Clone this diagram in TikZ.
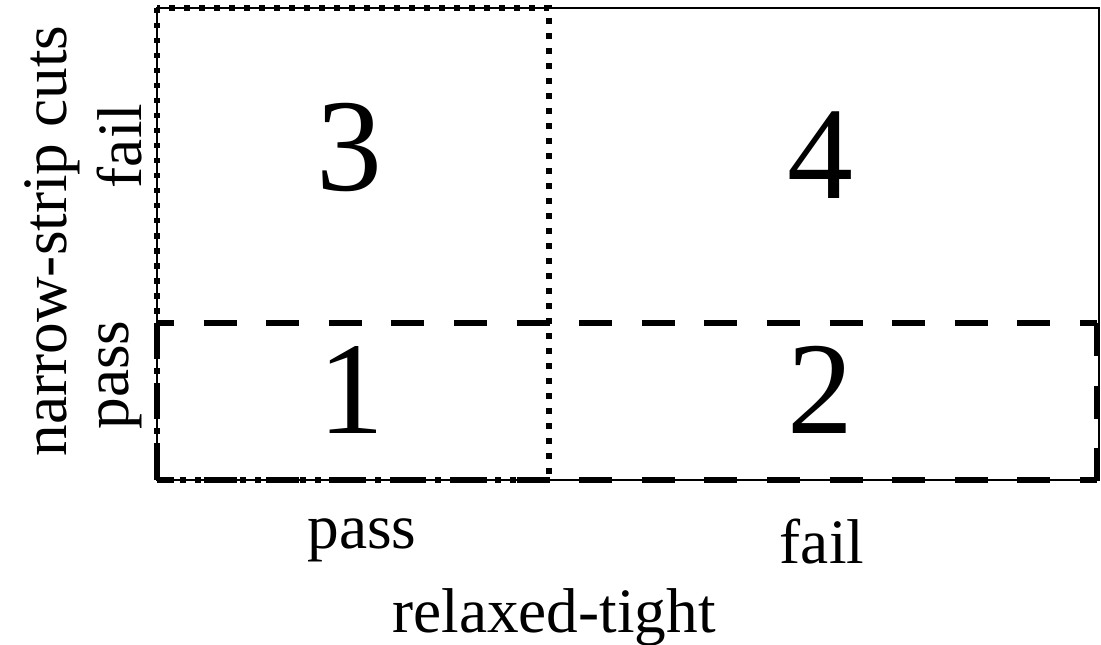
\documentclass[tikz,border=0pt]{standalone}
\usepackage{fontspec}
\setmainfont{Liberation Serif}
\usetikzlibrary{positioning}

\begin{document}
\begin{tikzpicture}[
  x=0.2mm, y=-0.2mm,
  % ── box outlines
  frame/.style  ={draw=black, line width=0.4mm},
  dotbox/.style ={draw=black, line width=1.2mm, dash pattern=on 1.1mm off 1.9mm},
  dashbox/.style={draw=black, line width=1.2mm, dash pattern=on 6.6mm off 5.92mm},
  % ── labels
  cellnum/.style={font=\fontsize{75}{80}\selectfont, inner sep=0pt},
  axlbl/.style  ={font=\fontsize{36}{40}\selectfont, inner sep=0pt},
]
\useasboundingbox (0,0) rectangle (1101,645);

%% ═══════════════════════════════════════════════════════════════
%%  GRID CORNERS
%% ═══════════════════════════════════════════════════════════════
\coordinate (NW)   at (157,8);
\coordinate (SE)   at (1099,480);
\coordinate (Nmid) at (549,8);
\coordinate (Smid) at (549,480);
% corners of the bottom (dashed) row
\coordinate (RW)   at (157,323);
\coordinate (RE)   at (1097,323);
\coordinate (RSW)  at (157,480);
\coordinate (RSE)  at (1097,480);

% outer frame
\draw[frame] (NW) rectangle (SE);

% left column: relaxed-tight pass
\draw[dotbox] (NW) rectangle (Smid);

% bottom row: narrow-strip cuts pass (each side dashed on its own)
\draw[dashbox, dash phase=3.2mm] (RW) -- (RE);
\draw[dashbox, dash phase=3.2mm] (RSW) -- (RSE);
\draw[dashbox] (RW) -- (RSW);
\draw[dashbox] (RE) -- (RSE);

%% ═══════════════════════════════════════════════════════════════
%%  CELL NUMBERS
%% ═══════════════════════════════════════════════════════════════
\node[cellnum] (c3) at (349,148) {3};
\node[cellnum] (c4) at (820,155) {4};
\node[cellnum] (c1) at (351,390) {1};
\node[cellnum] (c2) at (820,390) {2};

%% ═══════════════════════════════════════════════════════════════
%%  AXIS LABELS
%% ═══════════════════════════════════════════════════════════════
\node[axlbl] (xpass) at (362,540) {pass};
\node[axlbl] (xfail) at (822,542) {fail};
\node[axlbl] (xname) at (554,617) {relaxed-tight};

\node[axlbl, rotate=90] (yfail) at (120,146) {fail};
\node[axlbl, rotate=90] (ypass) at (120,375) {pass};
\node[axlbl, rotate=90] (yname) at (52,241) {narrow-strip cuts};

\end{tikzpicture}
\end{document}
